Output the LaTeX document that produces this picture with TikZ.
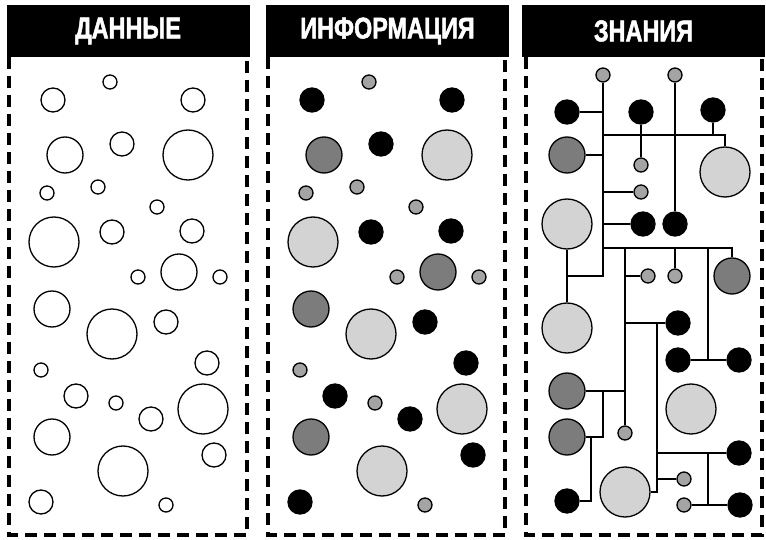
\documentclass[tikz,border=0pt]{standalone}
\usepackage{fontspec}
\usepackage{tikz}
\newfontfamily\headfont[FakeStretch=0.78,FakeBold=1.6]{Liberation Sans}
\definecolor{smallgrey}{HTML}{A4A4A4}
\definecolor{darkgrey}{HTML}{7C7C7C}
\definecolor{palegrey}{HTML}{D3D3D3}

\begin{document}
\begin{tikzpicture}[
    x=1pt, y=-1pt,
    header/.style={
        rectangle,
        fill=black,
        text=white,
        minimum width=243pt,
        minimum height=52pt,
        font=\headfont\bfseries\fontsize{30}{30}\selectfont
    },
    frame/.style={
        line width=3.4pt,
        dash pattern=on 12pt off 7pt
    },
    dot/.style={
        circle,
        draw=black,
        line width=1.3pt,
        inner sep=0pt,
        fill=white
    },
    dot1/.style={dot, minimum size=14pt},
    dot2/.style={dot, minimum size=24pt},
    dot3/.style={dot, minimum size=36pt},
    dot4/.style={dot, minimum size=50pt},
    info1/.style={dot1, fill=smallgrey},
    info2/.style={dot2, fill=black},
    info3/.style={dot3, fill=darkgrey},
    info4/.style={dot4, fill=palegrey},
    link/.style={
        line width=1.2pt
    }
]
\useasboundingbox (0,0) rectangle (766,540);

\node[header] (data) at (128,31) {ДАННЫЕ};
\node[header] (info) at (387.5,31) {ИНФОРМАЦИЯ};
\node[header] (know) at (643.5,31) {ЗНАНИЯ};

\draw[frame] (9,57) -- (9,535) -- (247,535) -- (247,57);
\draw[frame] (268,57) -- (268,535) -- (505,535) -- (505,57);
\draw[frame] (526,57) -- (526,535) -- (762,535) -- (762,57);

% raw data and the same points sorted by kind
\foreach \x/\y/\k [count=\i] in {
    110/82/1, 53/100/2, 193/100/2, 65/155/3, 122/144/2, 188/155/4,
    47/193/1, 98/187/1, 157/207/1, 54/242/4, 112/232/2, 192/231/2,
    138/277/1, 179/272/3, 220/277/1, 52/309/3, 112/334/4, 166/322/2,
    207/363/2, 41/370/1, 76/396/2, 116/403/1, 203/409/4, 151/419/2,
    52/437/3, 214/455/2, 123/471/4, 41/502/2, 166/505/1} {
    \node[dot\k] (d\i) at (\x,\y) {};
    \node[info\k] (i\i) at (\x+259,\y) {};
}

% knowledge
\node[info1] (ks1) at (603,75) {};
\node[info1] (ks2) at (675,75) {};
\node[info2] (kb1) at (567,112) {};
\node[info2] (kb2) at (641,112) {};
\node[info2] (kb3) at (713,110) {};
\node[info3] (kd1) at (567,155) {};
\node[info4] (kl1) at (725,172) {};
\node[info1] (ks3) at (641,165) {};
\node[info1] (ks4) at (641,192) {};
\node[info4] (kl2) at (567,224) {};
\node[info2] (kb4) at (643,224) {};
\node[info2] (kb5) at (675,224) {};
\node[info1] (ks5) at (648,276) {};
\node[info1] (ks6) at (675,276) {};
\node[info3] (kd2) at (732,276) {};
\node[info4] (kl3) at (567,328) {};
\node[info2] (kb6) at (678,323) {};
\node[info2] (kb7) at (678,360) {};
\node[info2] (kb8) at (739,360) {};
\node[info3] (kd3) at (567,391) {};
\node[info4] (kl4) at (691,409) {};
\node[info1] (ks7) at (625,433) {};
\node[info3] (kd4) at (567,437) {};
\node[info2] (kb9) at (739,453) {};
\node[info1] (ks8) at (684,479) {};
\node[info4] (kl5) at (625,492) {};
\node[info2] (kb10) at (567,501) {};
\node[info1] (ks9) at (684,505) {};
\node[info2] (kb11) at (740,505) {};

\coordinate (trunk) at (603,276);
\coordinate (busA) at (603,135);
\coordinate (busB) at (603,248);
\coordinate (colC) at (708,248);
\coordinate (colD) at (657,323);
\coordinate (colE) at (708,453);
\coordinate (colF) at (603,391);
\coordinate (colG) at (591,437);

\draw[link] (ks1) -- (trunk) -- (trunk -| kl2);
\draw[link] (kb1) -- (kb1 -| trunk);
\draw[link] (kd1) -- (kd1 -| trunk);
\draw[link] (ks4) -- (ks4 -| trunk);
\draw[link] (kb4) -- (kb4 -| trunk);
\draw[link] (kl2) -- (kl3);
\draw[link] (busA) -- (busA -| kl1) -- (kl1);
\draw[link] (kb3) -- (kb3 |- busA);
\draw[link] (ks2) -- (kb5);
\draw[link] (kb2) -- (ks3);
\draw[link] (busB) -- (busB -| kd2) -- (kd2);
\draw[link] (busB -| ks7) -- (ks7);
\draw[link] (ks5 -| ks7) -- (ks5);
\draw[link] (busB -| ks6) -- (ks6);
\draw[link] (colC) -- (colC |- kb7);
\draw[link] (kb7) -- (kb8);
\draw[link] (kb6 -| ks7) -- (kb6);
\draw[link] (colD) -- (colD |- kl5) -- (kl5);
\draw[link] (colD |- kb9) -- (kb9);
\draw[link] (colD |- ks8) -- (ks8);
\draw[link] (colE) -- (colE |- kb11);
\draw[link] (ks9) -- (kb11);
\draw[link] (kd3) -- (kd3 -| ks7);
\draw[link] (colF) -- (colF |- kd4) -- (kd4);
\draw[link] (colG) -- (colG |- kb10) -- (kb10);

\end{tikzpicture}
\end{document}
